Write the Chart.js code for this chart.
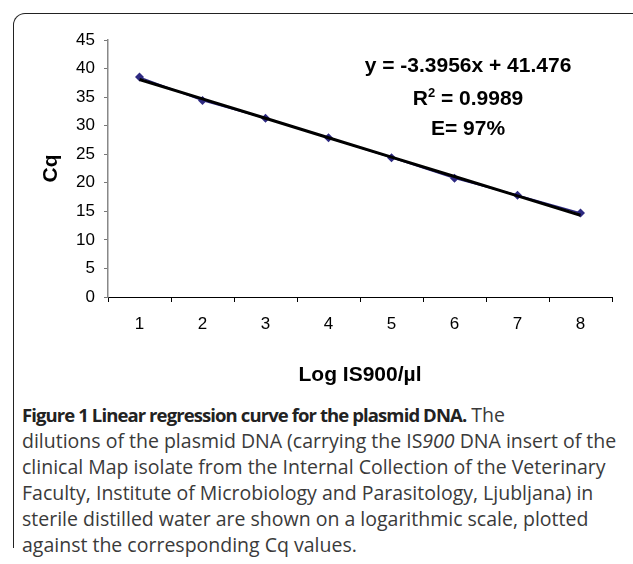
<!DOCTYPE html>
<html>
<head>
<meta charset="utf-8">
<script src="https://cdn.jsdelivr.net/npm/chart.js@4"></script>
<style>
  html, body { margin: 0; padding: 0; background: #fff; }
  body { width: 633px; height: 564px; position: relative; overflow: hidden; }
  #frame {
    position: absolute; left: 13px; top: 13px; width: 640px; height: 535px;
    border-top: 1.5px solid #222; border-left: 1.5px solid #222; border-right: 1.5px solid #222;
    border-radius: 12px 12px 0 0; box-sizing: border-box;
  }
  #chartWrap { position: absolute; left: 0; top: 0; width: 633px; height: 400px; }
  .eq {
    position: absolute; width: 260px; left: 338px; text-align: center;
    font: bold 21px "Liberation Sans", Arial, sans-serif; color: #000; line-height: 24px;
  }
  .eq sup { font-size: 13px; vertical-align: 8px; line-height: 0; }
  #caption {
    position: absolute; left: 22px; top: 402px; width: 640px;
    font: 19.5px "Open Sans", sans-serif; line-height: 26px; color: #3a3a3a; white-space: nowrap;
  }
  #caption b { color: #222; font-size: 18.5px; letter-spacing: -0.9px; }
</style>
</head>
<body>
<div id="frame"></div>
<div id="chartWrap"><canvas id="cqChart" width="633" height="400"></canvas></div>
<div class="eq" style="top:53px">y = -3.3956x + 41.476</div>
<div class="eq" style="top:86px">R<sup>2</sup> = 0.9989</div>
<div class="eq" style="top:116px">E= 97%</div>
<div id="caption"><b>Figure 1 Linear regression curve for the plasmid DNA.</b> The<br>dilutions of the plasmid DNA (carrying the IS<i>900</i> DNA insert of the<br>clinical Map isolate from the Internal Collection of the Veterinary<br>Faculty, Institute of Microbiology and Parasitology, Ljubljana) in<br>sterile distilled water are shown on a logarithmic scale, plotted<br>against the corresponding Cq values.</div>
<script>
const logLabels = ["1", "2", "3", "4", "5", "6", "7", "8"];
const cqValues = [38.5, 34.4, 31.3, 27.9, 24.4, 20.8, 17.8, 14.7];
// trendline read from the equation y = -3.3956x + 41.476
const trendValues = [38.08, 34.68, 31.29, 27.89, 24.50, 21.10, 17.71, 14.31];
const yTicks = [0, 5, 10, 15, 20, 25, 30, 35, 40, 45];

const axisFont = { family: "'Liberation Sans', Arial, sans-serif", size: 17 };
const titleFont = { family: "'Liberation Sans', Arial, sans-serif", size: 21, weight: "bold" };

const ctx = document.getElementById("cqChart").getContext("2d");

const cqChart = new Chart(ctx, {
  type: "line",
  data: {
    labels: logLabels,
    datasets: [
      {
        label: "Trend",
        data: trendValues,
        borderColor: "#000",
        borderWidth: 3,
        pointRadius: 0,
        tension: 0,
        order: 0,
      },
      {
        label: "Cq",
        data: cqValues,
        borderColor: "#2e2a82",
        backgroundColor: "#2e2a82",
        borderWidth: 1.5,
        pointStyle: "rectRot",
        pointRadius: 4.5,
        pointBorderWidth: 0,
        tension: 0,
        order: 1,
      },
    ],
  },
  options: {
    responsive: false,
    animation: false,
    layout: { padding: { left: 0, right: 21, top: 40, bottom: 0 } },
    plugins: { legend: { display: false }, tooltip: { enabled: false } },
    scales: {
      x: {
        type: "category",
        offset: true,
        grid: { offset: true, drawOnChartArea: false, drawTicks: true, tickLength: 5, color: "#000" },
        border: { color: "#000", width: 1 },
        ticks: { color: "#000", font: axisFont, padding: 12, maxRotation: 0 },
        title: { display: true, text: "Log IS900/µl", color: "#000", font: titleFont, padding: { top: 0, bottom: 12 } },
        afterFit: (scale) => { scale.height = 103; },
      },
      y: {
        min: 0,
        max: 45,
        afterBuildTicks: (scale) => { scale.ticks = yTicks.map((v) => ({ value: v })); },
        grid: { drawOnChartArea: false, drawTicks: true, tickLength: 4, color: "#777" },
        border: { color: "#888", width: 1.5 },
        ticks: { color: "#000", font: axisFont, padding: 9 },
        title: { display: true, text: "Cq", color: "#000", font: titleFont, padding: { top: 39, bottom: 0 } },
        afterFit: (scale) => { scale.width = 108; },
      },
    },
  },
});
</script>
</body>
</html>
